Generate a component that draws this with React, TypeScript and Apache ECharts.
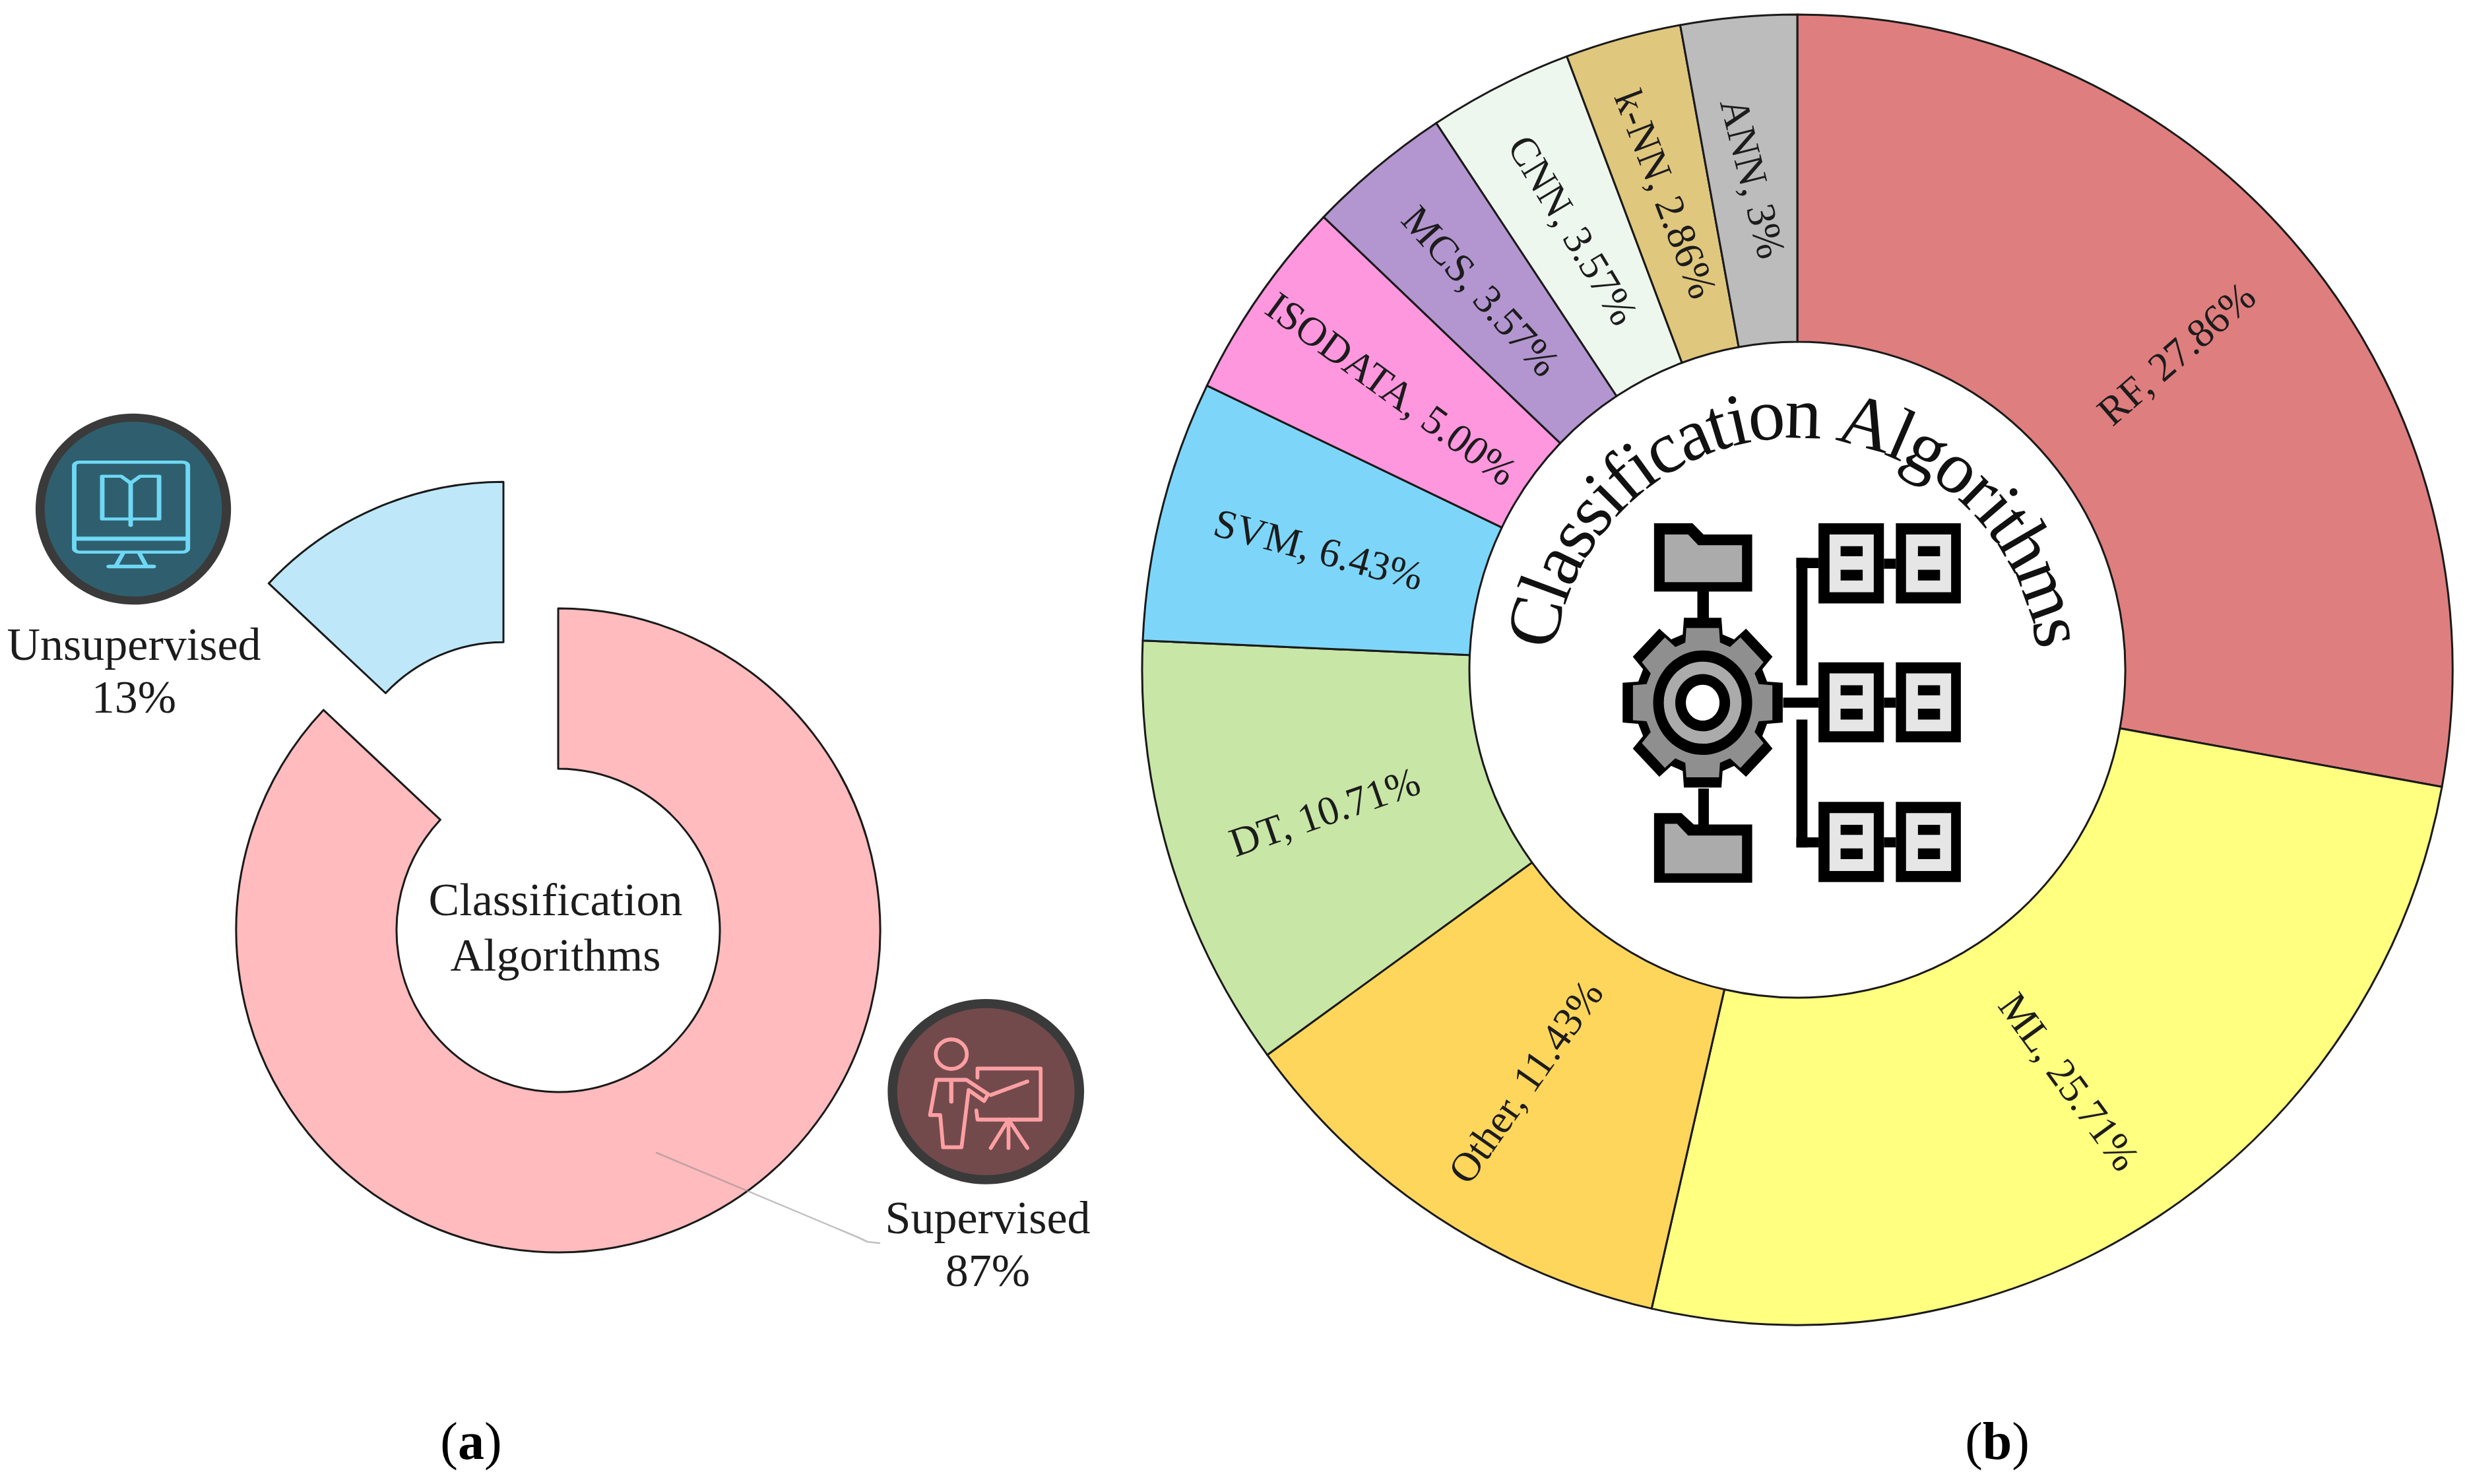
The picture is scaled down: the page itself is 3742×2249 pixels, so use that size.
import React, { useEffect, useRef } from "react";
import * as echarts from "echarts";

const W = 3742;
const H = 2249;
const SERIF = "Liberation Serif";
const INK = "#1c1c1c";

const leftNames = ["Supervised", "Unsupervised"];
const leftValues = [87, 13];
const leftColors = ["#FFBBBD", "#BEE8FA"];

const rightNames = ["RF", "ML", "Other", "DT", "SVM", "ISODATA", "MCS", "CNN", "k-NN", "ANN"];
const rightValues = [27.86, 25.71, 11.43, 10.71, 6.43, 5.0, 3.57, 3.57, 2.86, 2.86];
const rightValueLabels = ["27.86%", "25.71%", "11.43%", "10.71%", "6.43%", "5.00%", "3.57%", "3.57%", "2.86%", "3%"];
const rightColors = ["#DF7E7E", "#FFFF80", "#FFD65C", "#C8E6A5", "#7DD6FA", "#FF97DE", "#B396D0", "#EEF7EE", "#E0C77E", "#BCBCBC"];
const rightRotations = [41, -54, 55, 19, -15, -36, -48, -59, -69, -76];

const CURVED_TITLE = "Classification Algorithms";

function rect(x0: number, y0: number, x1: number, y1: number, fill: string) {
  return { type: "rect", shape: { x: x0, y: y0, width: x1 - x0, height: y1 - y0 }, style: { fill } };
}
function ell(cx: number, cy: number, rx: number, ry: number, fill: string) {
  return { type: "ellipse", shape: { cx, cy, rx, ry }, style: { fill } };
}
function poly(points: number[][], fill: string) {
  return { type: "polygon", shape: { points }, style: { fill } };
}
function stroke(points: number[][], color: string, lineWidth: number, closed = false) {
  return {
    type: closed ? "polygon" : "polyline",
    z: 10,
    shape: { points },
    style: { fill: closed ? "transparent" : "none", stroke: color, lineWidth, lineJoin: "round", lineCap: "round" },
  };
}

function gearPoints(cx: number, cy: number, rx: number, ry: number, root: number) {
  const pts: number[][] = [];
  const teeth = 8;
  for (let i = 0; i < teeth; i++) {
    const a = (i * 2 * Math.PI) / teeth - Math.PI / 2;
    const tip = 0.23;
    const base = 0.3;
    const add = (ang: number, r: number) => pts.push([cx + rx * r * Math.cos(ang), cy + ry * r * Math.sin(ang)]);
    add(a - base, root);
    add(a - tip, 1);
    add(a + tip, 1);
    add(a + base, root);
  }
  return pts;
}

function boxRow(dy: number) {
  const k = "#000000";
  const g = "#E6E6E6";
  const out: any[] = [];
  for (const [x0, x1, ix0, ix1, sx0, sx1] of [
    [830, 978, 855, 955, 880, 930],
    [1005, 1152, 1028, 1130, 1055, 1105],
  ]) {
    out.push(rect(x0, 457 + dy, x1, 695 + dy, k));
    out.push(rect(ix0, 490 + dy, ix1, 662 + dy, g));
    out.push(rect(sx0, 525 + dy, sx1, 555 + dy, k));
    out.push(rect(sx0, 595 + dy, sx1, 627 + dy, k));
  }
  out.push(rect(978, 562 + dy, 1005, 592 + dy, k));
  return out;
}

function centerIcon() {
  const k = "#000000";
  const folder = "#ABABAB";
  const children: any[] = [
    rect(556, 655, 582, 740, k),
    rect(558, 1245, 582, 1355, k),
    poly([[458, 457], [545, 457], [570, 490], [680, 490], [680, 660], [458, 660]], k),
    poly([[482, 490], [535, 490], [558, 522], [657, 522], [657, 632], [482, 632]], folder),
    poly([[458, 1318], [520, 1318], [548, 1352], [680, 1352], [680, 1525], [458, 1525]], k),
    poly([[482, 1350], [510, 1350], [535, 1385], [657, 1385], [657, 1497], [482, 1497]], folder),
    rect(780, 560, 830, 590, k),
    rect(780, 560, 805, 938, k),
    rect(750, 975, 830, 1005, k),
    rect(780, 1040, 805, 1420, k),
    rect(780, 1390, 830, 1420, k),
    poly(gearPoints(568, 990, 186, 259, 0.82), k),
    poly(gearPoints(568, 990, 162, 228, 0.82), "#8F8F8F"),
    ell(568, 990, 112, 155, k),
    ell(568, 990, 88, 122, folder),
    ell(568, 990, 62, 85, k),
    ell(568, 990, 38, 53, "#FFFFFF"),
    ...boxRow(0),
    ...boxRow(413),
    ...boxRow(828),
  ];
  return { type: "group", x: 2200, y: 560, scaleX: 1 / 1.493, scaleY: 1 / 1.96, silent: true, z: 10, children };
}

function unsupervisedIcon() {
  const c = "#6FD8F5";
  const lw = 12;
  const children: any[] = [
    ell(352, 448, 258, 378, "#3A3A3A"),
    ell(352, 448, 234, 346, "#2F5F6E"),
    {
      type: "rect",
      shape: { x: 196, y: 262, width: 300, height: 356, r: 14 },
      style: { fill: "transparent", stroke: c, lineWidth: lw },
    },
    stroke([[198, 565], [494, 565]], c, lw + 4),
    stroke([[325, 622], [306, 673]], c, lw),
    stroke([[368, 622], [386, 673]], c, lw),
    stroke([[288, 675], [405, 675]], c, lw + 2),
    stroke([[345, 345], [320, 318], [270, 318], [270, 487], [345, 487], [420, 487], [420, 318], [370, 318], [345, 345]], c, lw),
    stroke([[345, 345], [345, 512]], c, lw),
  ];
  return { type: "group", x: 0, y: 600, scaleX: 1 / 1.742, scaleY: 1 / 2.613, silent: true, children };
}

function supervisedIcon() {
  const c = "#FF9FA3";
  const lw = 17;
  const children: any[] = [
    ell(578, 507, 443, 408, "#3A3A3A"),
    ell(578, 507, 400, 368, "#724A4C"),
    {
      type: "ellipse",
      shape: { cx: 422, cy: 342, rx: 70, ry: 65 },
      style: { fill: "transparent", stroke: c, lineWidth: lw },
    },
    stroke(
      [[355, 455], [490, 455], [588, 518], [570, 548], [500, 500], [490, 580], [468, 752], [385, 752], [372, 610], [326, 610]],
      c,
      lw,
      true
    ),
    stroke([[422, 462], [422, 550]], c, lw + 2),
    stroke([[540, 445], [540, 405], [825, 405], [825, 630], [540, 630], [535, 590]], c, lw),
    stroke([[600, 522], [765, 462]], c, lw),
    stroke([[680, 630], [600, 755]], c, lw),
    stroke([[680, 630], [680, 755]], c, lw),
    stroke([[680, 630], [765, 755]], c, lw),
  ];
  return { type: "group", x: 1300, y: 1480, scaleX: 1 / 2.98, scaleY: 1 / 2.91, silent: true, children };
}

function curvedTitle() {
  const size = 112;
  const cx = 2722;
  const cy = 1032;
  const r = 375;
  const canvas = document.createElement("canvas");
  const ctx = canvas.getContext("2d")!;
  ctx.font = `${size}px "${SERIF}"`;
  const adv = CURVED_TITLE.split("").map((ch) => ctx.measureText(ch).width);
  const total = adv.reduce((a, b) => a + b, 0);
  const span = (165 * Math.PI) / 180;
  const k = span / total;
  let run = 0;
  const out: any[] = [];
  CURVED_TITLE.split("").forEach((ch, i) => {
    const mid = run + adv[i] / 2;
    run += adv[i];
    if (ch === " ") return;
    const ang = -span / 2 + mid * k;
    const rr = r + size * 0.28;
    out.push({
      type: "text",
      x: cx + rr * Math.sin(ang),
      y: cy - rr * Math.cos(ang),
      rotation: -ang,
      silent: true,
      z: 10,
      style: { text: ch, font: `${size}px "${SERIF}"`, fill: "#111111", align: "center", verticalAlign: "middle" },
    });
  });
  return out;
}

function plainText(x: number, y: number, text: string, size: number, lineHeight: number) {
  return {
    type: "text",
    x,
    y,
    silent: true,
    z: 10,
    style: { text, font: `${size}px "${SERIF}"`, fill: INK, align: "center", verticalAlign: "middle", lineHeight },
  };
}

function panelTag(x: number, y: number, letter: string) {
  return {
    type: "text",
    x,
    y,
    silent: true,
    style: {
      text: `{n|(}{b|${letter}}{n|)}`,
      align: "center",
      verticalAlign: "middle",
      rich: {
        n: { font: `80px "${SERIF}"`, fill: "#000000" },
        b: { font: `bold 80px "${SERIF}"`, fill: "#000000" },
      },
    },
  };
}

export default function App() {
  const ref = useRef<HTMLDivElement>(null);
  useEffect(() => {
    document.body.style.margin = "0";
    document.body.style.background = "#FFFFFF";
    const chart = echarts.init(ref.current!, null, { renderer: "svg" });
    const border = { borderColor: "#1a1a1a", borderWidth: 3 };
    chart.setOption({
      animation: false,
      backgroundColor: "#FFFFFF",
      series: [
        {
          type: "pie",
          center: [846, 1410],
          radius: [245, 488],
          startAngle: 90,
          clockwise: true,
          selectedMode: "single",
          selectedOffset: 209,
          label: { show: false },
          labelLine: { show: false },
          emphasis: { disabled: true },
          itemStyle: border,
          data: leftNames.map((name, i) => ({
            name,
            value: leftValues[i],
            selected: i === 1,
            itemStyle: { color: leftColors[i] },
          })),
        },
        {
          type: "pie",
          center: [2724, 1015],
          radius: [497, 993],
          startAngle: 90,
          clockwise: true,
          avoidLabelOverlap: false,
          labelLine: { show: false },
          emphasis: { disabled: true },
          itemStyle: border,
          data: rightNames.map((name, i) => ({
            name,
            value: rightValues[i],
            itemStyle: { color: rightColors[i] },
            label: {
              show: true,
              position: "inside",
              rotate: rightRotations[i],
              formatter: `${name}, ${rightValueLabels[i]}`,
              fontFamily: SERIF,
              fontSize: 62,
              color: INK,
            },
          })),
        },
      ],
      graphic: {
        elements: [
          plainText(842, 1405, "Classification\nAlgorithms", 70, 84),
          plainText(203, 1016, `${leftNames[1]}\n${leftValues[1]}%`, 70, 80),
          plainText(1497, 1885, `${leftNames[0]}\n${leftValues[0]}%`, 70, 80),
          stroke([[995, 1747], [1300, 1875], [1315, 1882], [1333, 1884]], "rgba(140,140,140,0.55)", 2.5),
          unsupervisedIcon(),
          supervisedIcon(),
          centerIcon(),
          ...curvedTitle(),
          panelTag(714, 2184, "a"),
          panelTag(3027, 2184, "b"),
        ],
      },
    });
    return () => chart.dispose();
  }, []);
  return <div ref={ref} style={{ position: "absolute", left: 0, top: 0, width: W, height: H }} />;
}
